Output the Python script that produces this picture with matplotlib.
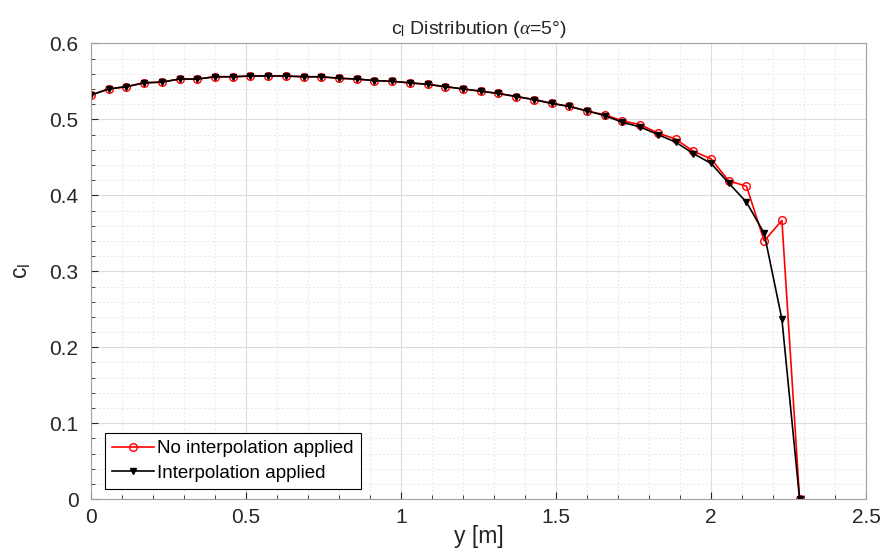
import numpy as np
import matplotlib
matplotlib.use('Agg')
import matplotlib.pyplot as plt
from matplotlib.ticker import MultipleLocator

# spanwise stations (41 points up to the tip)
y_span = np.linspace(0, 16 / 7, 41)

cl_raw = [0.532, 0.540, 0.543, 0.548, 0.549, 0.553, 0.553, 0.556, 0.556, 0.557,
          0.557, 0.557, 0.556, 0.556, 0.554, 0.553, 0.551, 0.550, 0.548, 0.546,
          0.543, 0.540, 0.537, 0.534, 0.530, 0.526, 0.521, 0.517, 0.511, 0.506,
          0.498, 0.493, 0.482, 0.474, 0.458, 0.448, 0.419, 0.412, 0.340, 0.367,
          0.0]
cl_interp = [0.532, 0.540, 0.543, 0.548, 0.549, 0.553, 0.553, 0.556, 0.556, 0.557,
             0.557, 0.557, 0.556, 0.556, 0.554, 0.553, 0.551, 0.550, 0.548, 0.546,
             0.543, 0.540, 0.537, 0.534, 0.530, 0.526, 0.521, 0.517, 0.511, 0.505,
             0.496, 0.490, 0.480, 0.470, 0.455, 0.442, 0.416, 0.391, 0.350, 0.237,
             0.0]

plt.rcParams['font.family'] = ['Liberation Sans', 'DejaVu Sans']
plt.rcParams['mathtext.fontset'] = 'custom'
plt.rcParams['mathtext.rm'] = 'Liberation Sans'
plt.rcParams['mathtext.it'] = 'Liberation Serif:italic'

fig = plt.figure(figsize=(8.83, 5.52), dpi=100)
ax = fig.add_axes([0.1031, 0.0955, 0.8777, 0.826])

ax.plot(y_span, cl_raw, '-o', color='red', lw=1.2, ms=5.5, mfc='none', mew=1.0,
        label='No interpolation applied')
ax.plot(y_span, cl_interp, '-v', color='black', lw=1.2, ms=5,
        label='Interpolation applied')

ax.set_xlim(0, 2.5)
ax.set_ylim(0, 0.6)
ax.xaxis.set_minor_locator(MultipleLocator(0.1))
ax.yaxis.set_minor_locator(MultipleLocator(0.02))
ax.set_xticks([0, 0.5, 1, 1.5, 2, 2.5])
ax.set_xticklabels(['0', '0.5', '1', '1.5', '2', '2.5'])
ax.set_yticks([0, 0.1, 0.2, 0.3, 0.4, 0.5, 0.6])
ax.set_yticklabels(['0', '0.1', '0.2', '0.3', '0.4', '0.5', '0.6'])

ax.grid(which='major', color='#dcdcdc', lw=0.8, ls='-')
ax.grid(which='minor', color='#e6e6e6', lw=0.8, ls=(0, (1.5, 2)))
ax.set_axisbelow(True)
ax.tick_params(which='both', direction='in', top=False, right=False,
               colors='#262626', labelsize=15, labelcolor='#262626')
ax.tick_params(axis='x', which='major', length=5, pad=6)
ax.tick_params(axis='y', which='major', length=5, pad=9)
ax.tick_params(which='minor', length=3)
for s in ax.spines.values():
    s.set_color('#a0a0a0')
    s.set_linewidth(0.8)

ax.set_title(r'c$_\mathregular{l}$ Distribution ($\alpha$=5°)', fontsize=14,
             color='#262626', pad=7)
ax.set_xlabel('y [m]', fontsize=16.5, color='#262626', labelpad=-1)
ax.set_ylabel(r'c$_\mathregular{l}$', fontsize=16.5, color='#262626', labelpad=12)

leg = ax.legend(loc='lower left', fontsize=13.5, fancybox=False, framealpha=1,
                edgecolor='black', bbox_to_anchor=(0.018, 0.022), borderaxespad=0,
                handlelength=2.2, handletextpad=0.2, borderpad=0.4,
                labelspacing=0.4)
leg.get_frame().set_linewidth(0.8)

fig.savefig('out.png', dpi=100)
